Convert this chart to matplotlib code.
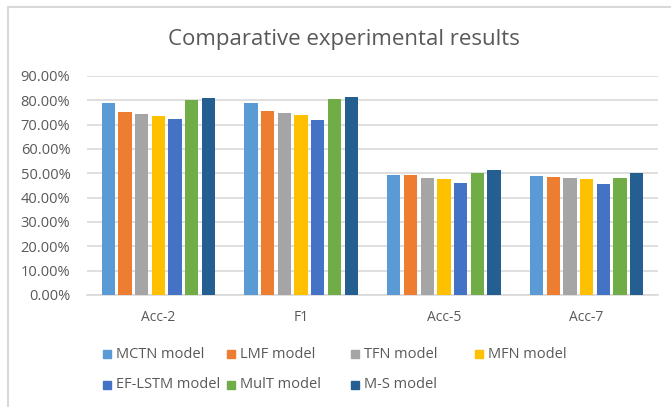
import numpy as np
import matplotlib.pyplot as plt
from matplotlib.patches import Rectangle
from matplotlib.lines import Line2D
from matplotlib.ticker import FuncFormatter

# metrics on the x axis
categories = ['Acc-2', 'F1', 'Acc-5', 'Acc-7']

# scores (%) for each model, in the order of categories
mctn = [79.0, 78.8, 49.3, 48.9]
lmf = [75.3, 75.8, 49.4, 48.5]
tfn = [74.2, 74.7, 48.2, 47.9]
mfn = [73.6, 74.0, 47.5, 47.5]
ef_lstm = [72.5, 72.1, 46.0, 45.6]
mult = [80.1, 80.5, 50.0, 48.2]
m_s = [80.8, 81.2, 51.5, 50.0]

model_names = ['MCTN model', 'LMF model', 'TFN model', 'MFN model',
               'EF-LSTM model', 'MulT model', 'M-S model']
series = [mctn, lmf, tfn, mfn, ef_lstm, mult, m_s]
colors = ['#5B9BD5', '#ED7D31', '#A5A5A5', '#FFC000',
          '#4472C4', '#70AD47', '#255E91']

plt.rcParams['font.family'] = ['Open Sans', 'DejaVu Sans']
text_color = '#595959'
grid_color = '#D9D9D9'

fig = plt.figure(figsize=(6.71, 4.07), dpi=100)
ax = fig.add_axes([0.1297, 0.2752, 0.8509, 0.5381])

x = np.arange(len(categories))
step = 0.117
width = 0.093
for j, (vals, col) in enumerate(zip(series, colors)):
    ax.bar(x + (j - 3) * step, vals, width=width, color=col, zorder=3)

ax.set_xlim(-0.5, len(categories) - 0.5)
ax.set_ylim(0, 90)
ax.set_yticks(np.arange(0, 91, 10))
ax.yaxis.set_major_formatter(FuncFormatter(lambda v, p: f'{v:.2f}%'))
ax.set_xticks(x)
ax.set_xticklabels(categories)

ax.grid(axis='y', color=grid_color, linewidth=1.2, zorder=0)
for side in ['top', 'right', 'left']:
    ax.spines[side].set_visible(False)
ax.spines['bottom'].set_color(grid_color)
ax.spines['bottom'].set_linewidth(1.2)
ax.tick_params(axis='both', length=0, colors=text_color, labelsize=10)
ax.tick_params(axis='y', labelsize=10.5, pad=12)
ax.tick_params(axis='x', pad=10.5)

fig.text(0.513, 0.902, 'Comparative experimental results', ha='center',
         va='center', fontsize=16, color=text_color)

# legend laid out in an even grid, 4 per row
fig_w, fig_h = 671, 407
for i, (name, col) in enumerate(zip(model_names, colors)):
    r, c = divmod(i, 4)
    px = 103 + c * 124
    py = 354 + r * 31
    fig.patches.append(Rectangle((px / fig_w, 1 - (py + 4) / fig_h),
                                 8 / fig_w, 8 / fig_h, color=col,
                                 transform=fig.transFigure))
    fig.text((px + 13) / fig_w, 1 - py / fig_h, name, ha='left',
             va='center', fontsize=10.5, color=text_color)

# chart frame
fig.add_artist(Line2D([8 / fig_w, 1], [1 - 7 / fig_h] * 2,
                      transform=fig.transFigure, color=grid_color, lw=1.5))
fig.add_artist(Line2D([8 / fig_w] * 2, [0, 1 - 7 / fig_h],
                      transform=fig.transFigure, color=grid_color, lw=1.5))

fig.savefig('out.png', dpi=100)
